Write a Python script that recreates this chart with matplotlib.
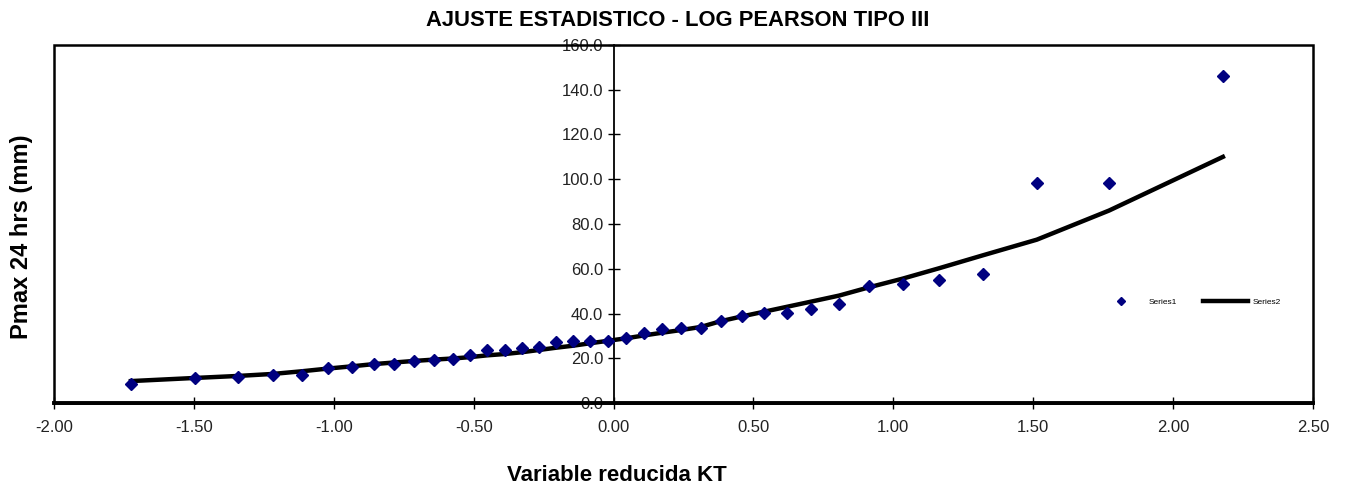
import matplotlib
matplotlib.use("Agg")
import matplotlib.pyplot as plt
from matplotlib.patches import Rectangle

# Variable reducida KT (eje x)
kt = [-1.725, -1.496, -1.342, -1.217, -1.113, -1.020, -0.935, -0.856, -0.785,
      -0.713, -0.642, -0.574, -0.513, -0.452, -0.388, -0.327, -0.266, -0.206,
      -0.145, -0.084, -0.020, 0.044, 0.109, 0.173, 0.241, 0.312, 0.384, 0.459,
      0.538, 0.620, 0.706, 0.806, 0.913, 1.034, 1.163, 1.320, 1.513, 1.771, 2.178]

# Series1: Pmax observada (mm)
pmax_obs = [8.5, 11.2, 11.7, 12.6, 12.6, 15.6, 16.3, 17.4, 17.4, 18.6, 19.0,
            19.6, 21.4, 23.9, 23.9, 24.4, 25.1, 27.3, 27.7, 27.9, 27.9, 28.9,
            31.4, 32.9, 33.5, 33.5, 36.7, 38.9, 40.4, 40.4, 42.2, 44.1, 52.3,
            53.4, 55.0, 57.7, 98.3, 98.3, 146.1]

# Series2: ajuste Log Pearson III (mm)
pmax_fit = [9.8, 11.2, 12.1, 13.0, 14.2, 15.4, 16.4, 17.4, 18.1, 18.8, 19.4,
            19.9, 20.5, 21.3, 21.9, 22.7, 23.7, 24.7, 25.6, 26.7, 27.8, 28.9,
            30.2, 31.4, 32.6, 34.0, 36.6, 38.7, 40.8, 43.0, 45.3, 48.0, 51.7,
            55.6, 60.2, 66.0, 73.0, 86.0, 110.0]

xticks = [-2.0, -1.5, -1.0, -0.5, 0.0, 0.5, 1.0, 1.5, 2.0, 2.5]
yticks = [0, 20, 40, 60, 80, 100, 120, 140, 160]

plt.rcParams['font.family'] = ['Liberation Sans Narrow', 'Liberation Sans', 'DejaVu Sans']
bold_fam = ['Liberation Sans', 'DejaVu Sans']

fig = plt.figure(figsize=(13.49, 4.91), dpi=100)
ax = fig.add_axes([0.040, 0.1792, 0.9333, 0.7292])

ax.plot(kt, pmax_obs, linestyle='none', marker='D', markersize=6,
        color='#000080', label='Series1', zorder=4)
ax.plot(kt, pmax_fit, color='black', linewidth=3.2, label='Series2', zorder=3)

ax.set_xlim(-2.0, 2.5)
ax.set_ylim(0, 160)
ax.set_xticks(xticks)
ax.set_xticklabels(['%.2f' % v for v in xticks])
ax.set_yticks(yticks)
ax.set_yticklabels(['%.1f' % v for v in yticks])

# eje y en KT = 0, marco alrededor
ax.spines['left'].set_position(('data', 0))
ax.spines['left'].set_linewidth(1.3)
ax.spines['top'].set_visible(False)
ax.spines['right'].set_visible(False)
ax.spines['bottom'].set_linewidth(2.8)
ax.add_patch(Rectangle((0, 0), 1, 1, transform=ax.transAxes, fill=False,
                       edgecolor='black', linewidth=1.8, clip_on=False, zorder=5))

ax.tick_params(axis='x', direction='inout', length=9, width=1, pad=8,
               labelsize=12, labelcolor='#222222')
ax.tick_params(axis='y', direction='inout', length=9, width=1, pad=3,
               labelsize=12, labelcolor='#222222')

ax.legend(loc='center', bbox_to_anchor=(1190 / 1349, 1 - 302 / 491),
          bbox_transform=fig.transFigure, ncol=2, frameon=False,
          fontsize=6, handlelength=5.3, handletextpad=0.6,
          columnspacing=3.2, markerscale=0.7)

fig.text(0.502, 0.958, 'AJUSTE ESTADISTICO - LOG PEARSON TIPO III',
         ha='center', va='center', fontsize=15.8, fontweight='bold', family=bold_fam)
fig.text(0.0163, 0.518, 'Pmax 24 hrs (mm)', rotation=90, ha='center',
         va='center', fontsize=17, fontweight='bold', family=bold_fam)
fig.text(0.4574, 0.031, 'Variable reducida KT', ha='center', va='center',
         fontsize=16, fontweight='bold', family=bold_fam)

fig.savefig('out.png', dpi=100)
